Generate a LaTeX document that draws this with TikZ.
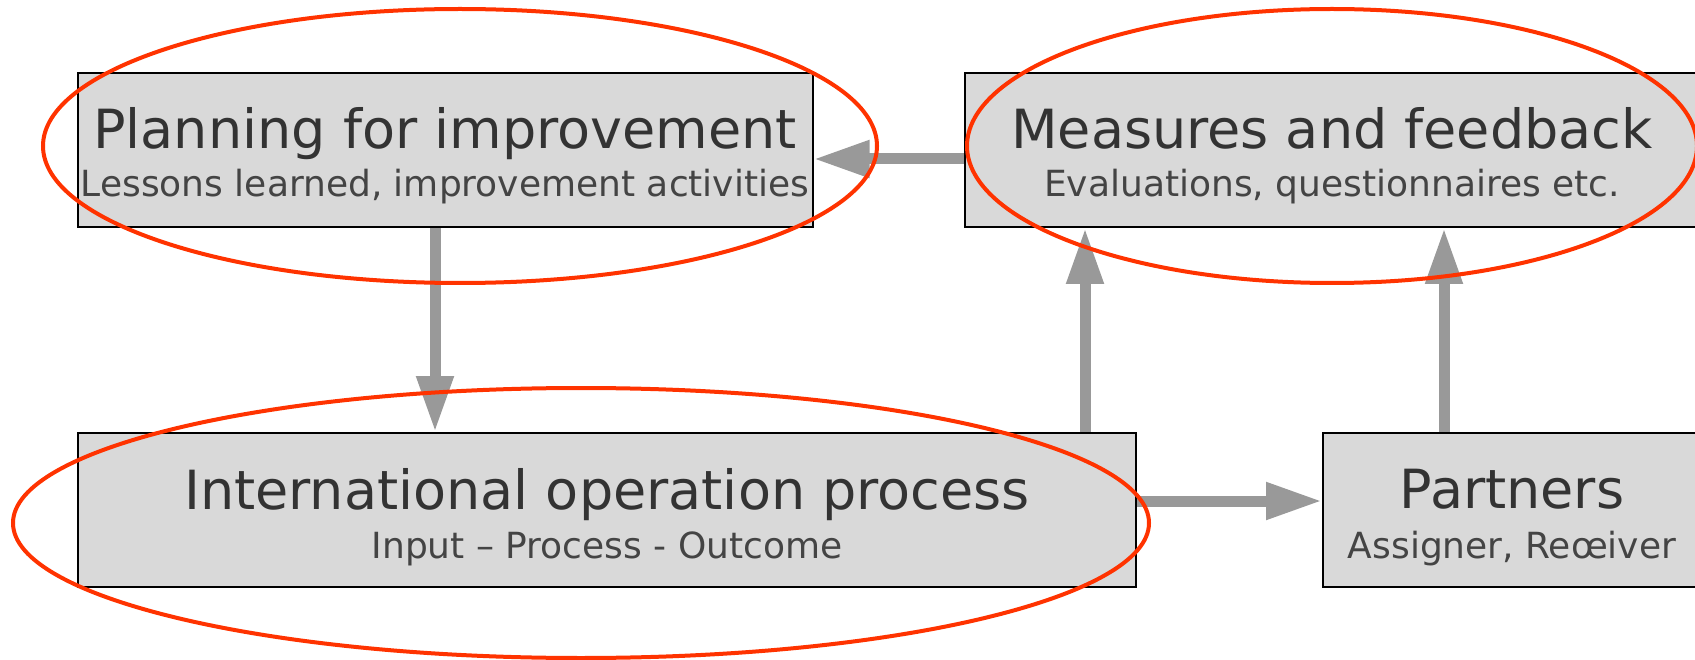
\documentclass[tikz,border=0pt]{standalone}
\usepackage{fontspec}
\setmainfont{DejaVu Sans}
\usetikzlibrary{arrows.meta}
\definecolor{boxfill}{HTML}{D9D9D9}
\definecolor{arrowgray}{HTML}{999999}
\definecolor{ringred}{HTML}{FF3300}
\definecolor{titlecol}{HTML}{333333}
\definecolor{subcol}{HTML}{444444}
\tikzset{
  stepbox/.style={draw=black, line width=2pt, fill=boxfill, rectangle, inner sep=0pt, minimum height=154pt},
  titletext/.style={anchor=base, inner sep=0pt, text=titlecol, font=\fontsize{54}{60}\selectfont},
  subtext/.style={anchor=base, inner sep=0pt, text=subcol, font=\fontsize{36}{40}\selectfont},
  flow/.style={draw=arrowgray, line width=11pt, -{Triangle[length=56pt, width=35pt]}, arrowgray},
  ring/.style={draw=ringred, line width=4pt}
}
\begin{document}
\begin{tikzpicture}[x=1pt, y=-1pt]
  \useasboundingbox (0,0) rectangle (1695,660);
  % boxes
  \node[stepbox, minimum width=735pt] (plan) at (445,150) {};
  \node[stepbox, minimum width=734pt] (meas) at (1332,150) {};
  \node[stepbox, minimum width=1058pt] (intl) at (607,510) {};
  \node[stepbox, minimum width=378pt] (part) at (1512,510) {};
  % texts
  \node[titletext] (planT) at (445,149) {Planning for improvement};
  \node[subtext] (planS) at (445,197) {Lessons learned, improvement activities};
  \node[titletext] (measT) at (1332,149) {Measures and feedback};
  \node[subtext] (measS) at (1332,197) {Evaluations, questionnaires etc.};
  \node[titletext] (intlT) at (607,509) {International operation process};
  \node[subtext] (intlS) at (607,558) {Input – Process - Outcome};
  \node[titletext] (partT) at (1512,508) {Partners};
  \node[subtext] (partS) at (1512,558) {Assigner, Reœiver};
  % connectors
  \coordinate (a1) at (0,159);
  \draw[flow] (meas.west |- a1) -- (plan.east |- a1);
  \coordinate (a2) at (435,0);
  \draw[flow] (plan.south -| a2) -- (intl.north -| a2);
  \coordinate (a3) at (1085,0);
  \draw[flow] (intl.north -| a3) -- (meas.south -| a3);
  \coordinate (a4) at (1444,0);
  \draw[flow] (part.north -| a4) -- (meas.south -| a4);
  \coordinate (a5) at (0,501);
  \draw[flow] (intl.east |- a5) -- (part.west |- a5);
  % highlight ellipses
  \draw[ring] (460,146) ellipse [x radius=417, y radius=137];
  \draw[ring] (1332,146) ellipse [x radius=365, y radius=137];
  \draw[ring] (581,523) ellipse [x radius=568, y radius=135];
\end{tikzpicture}
\end{document}
